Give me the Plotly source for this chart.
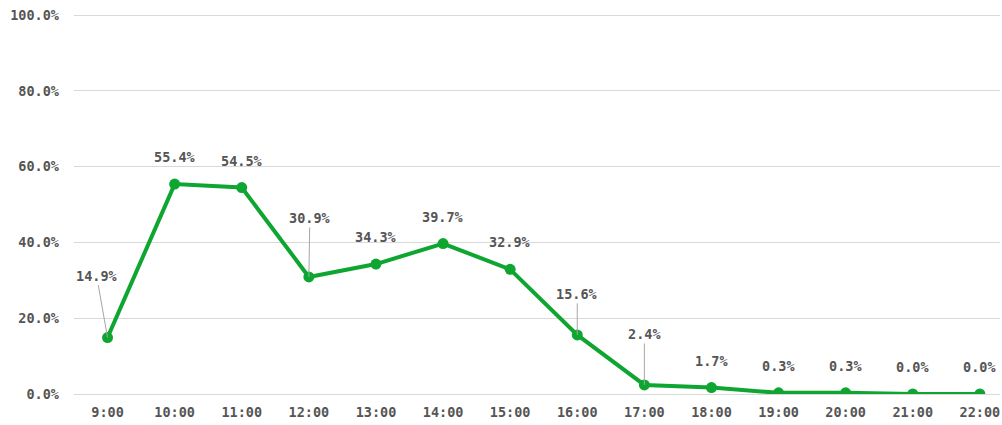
import plotly.graph_objects as go

hours = ["9:00", "10:00", "11:00", "12:00", "13:00", "14:00", "15:00",
         "16:00", "17:00", "18:00", "19:00", "20:00", "21:00", "22:00"]
rates = [14.9, 55.4, 54.5, 30.9, 34.3, 39.7, 32.9, 15.6, 2.4, 1.7, 0.3, 0.3, 0.0, 0.0]
labels = ["14.9%", "55.4%", "54.5%", "30.9%", "34.3%", "39.7%", "32.9%",
          "15.6%", "2.4%", "1.7%", "0.3%", "0.3%", "0.0%", "0.0%"]
# leader-line offsets (pixels) for labels that are moved away from their point
leaders = {0: (-11, -62), 3: (1, -59), 7: (0, -41), 8: (0, -51)}

FONT = "DejaVu Sans Mono"
GRAY = "#555555"
GREEN = "#0fa531"
tfont = dict(family=FONT, size=13.5, color=GRAY, weight="bold")

fig = go.Figure()
fig.add_trace(go.Scatter(
    x=list(range(len(hours))), y=rates, mode="lines+markers",
    line=dict(color=GREEN, width=4),
    marker=dict(color=GREEN, size=11),
    hoverinfo="skip",
))

annotations = []
for i, (v, t) in enumerate(zip(rates, labels)):
    if i in leaders:
        ax, ay = leaders[i]
        annotations.append(dict(
            x=i, y=v, xref="x", yref="y", text=t, showarrow=True,
            arrowhead=0, arrowwidth=1, arrowcolor="#a6a6a6",
            ax=ax, ay=ay, standoff=0, font=tfont,
        ))
    else:
        annotations.append(dict(
            x=i, y=v, xref="x", yref="y", text=t, showarrow=False,
            yshift=27, font=tfont,
        ))

fig.update_layout(
    width=1002, height=425,
    margin=dict(l=74, r=2, t=14, b=31),
    paper_bgcolor="white", plot_bgcolor="white",
    showlegend=False,
    annotations=annotations,
    xaxis=dict(
        tickmode="array", tickvals=list(range(len(hours))), ticktext=hours,
        range=[-0.5, 13.3], showgrid=False, zeroline=False, showline=False,
        ticks="", tickfont=tfont, ticklabelstandoff=8, fixedrange=True,
    ),
    yaxis=dict(
        range=[0, 100.3], tickvals=[0, 20, 40, 60, 80, 100],
        ticktext=["0.0%", "20.0%", "40.0%", "60.0%", "80.0%", "100.0%"],
        showgrid=True, gridcolor="#d9d9d9", gridwidth=1,
        zeroline=True, zerolinecolor="#d9d9d9", zerolinewidth=1,
        showline=False, ticks="", ticklabelstandoff=14,
        tickfont=tfont, fixedrange=True,
    ),
)

fig.write_html("out.html", config={"displayModeBar": False},
               post_script="document.body.style.margin='0px';document.body.style.overflow='hidden';")
